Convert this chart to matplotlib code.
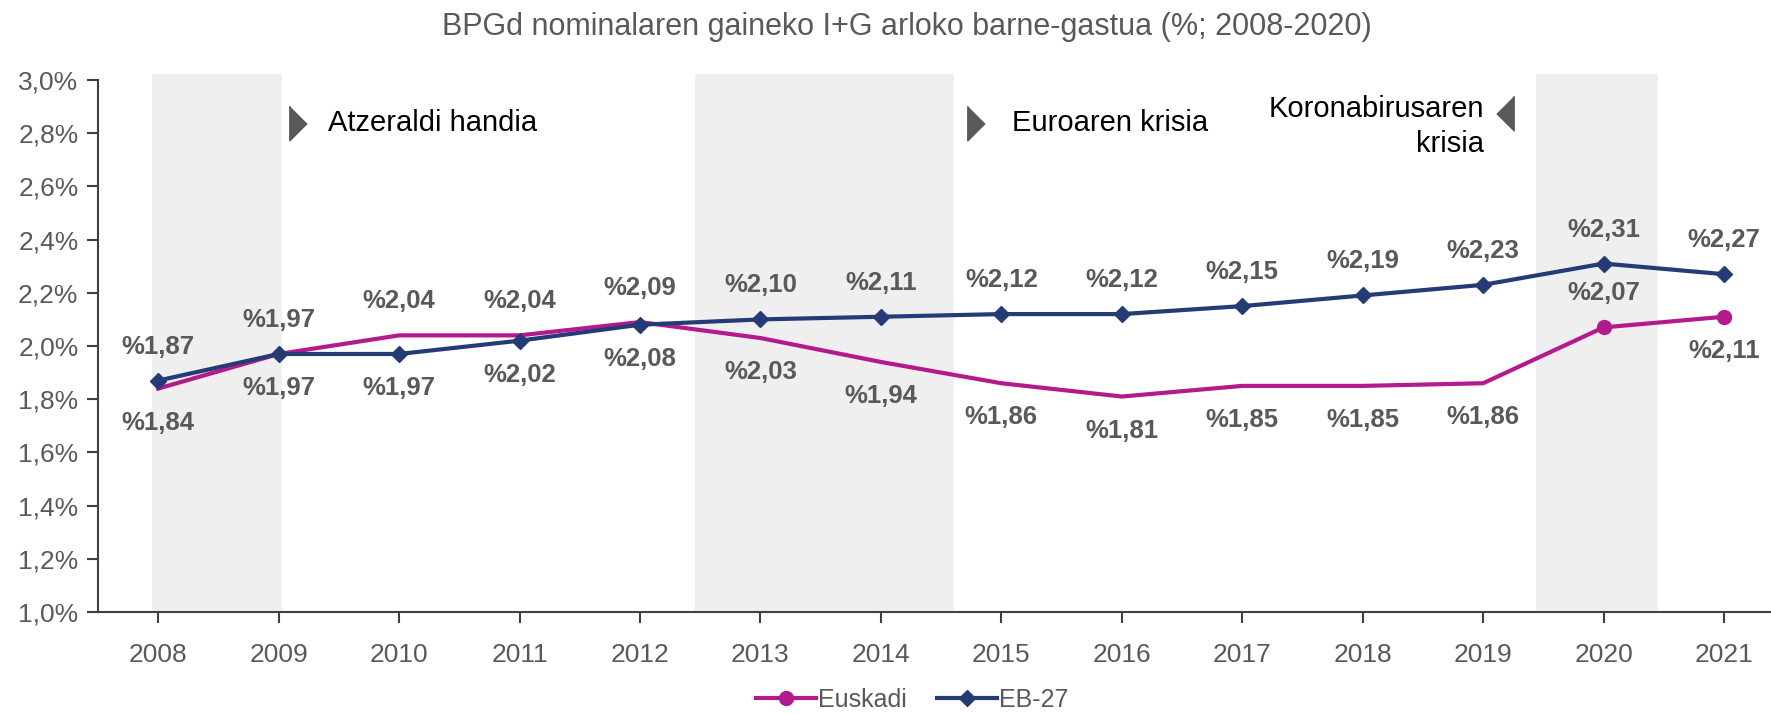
import numpy as np
import matplotlib
matplotlib.use("Agg")
from matplotlib import pyplot as plt
from matplotlib import font_manager as fm

years = ["2008", "2009", "2010", "2011", "2012", "2013", "2014",
         "2015", "2016", "2017", "2018", "2019", "2020", "2021"]
euskadi = [1.84, 1.97, 2.04, 2.04, 2.09, 2.03, 1.94, 1.86, 1.81, 1.85, 1.85, 1.86, 2.07, 2.11]
eb27 = [1.87, 1.97, 1.97, 2.02, 2.08, 2.10, 2.11, 2.12, 2.12, 2.15, 2.19, 2.23, 2.31, 2.27]
# crisis periods (category index ranges)
bands = [(-0.05, 1.03), (4.46, 6.61), (11.44, 12.45)]
title = "BPGd nominalaren gaineko I+G arloko barne-gastua (%; 2008-2020)"

# label side: +1 above the point, -1 below
eu_side = [-1, -1, 1, 1, 1, -1, -1, -1, -1, -1, -1, -1, 1, -1]
eb_side = [1, 1, -1, -1, -1, 1, 1, 1, 1, 1, 1, 1, 1, 1]


def pick(names):
    for n in names:
        try:
            fm.findfont(n, fallback_to_default=False)
            return n
        except ValueError:
            pass
    return "DejaVu Sans"


font = pick(["Liberation Sans Narrow", "Liberation Sans"])
plt.rcParams["font.family"] = [font, "DejaVu Sans"]

GREY = "#595959"
PINK = "#B41A8C"
NAVY = "#243B76"

fig = plt.figure(figsize=(17.71, 7.14), dpi=100)
ax = fig.add_axes([0.0553, 0.1429, 0.9447, 0.745])
x = np.arange(len(years))

for a, b in bands:
    ax.axvspan(a, b, ymin=0, ymax=1.012, color="#EFEFEF", lw=0, zorder=0, clip_on=False)

ax.plot(x, euskadi, color=PINK, lw=3, marker="o", ms=10, markevery=[12, 13],
        label="Euskadi", zorder=3)
ax.plot(x, eb27, color=NAVY, lw=3, marker="D", ms=8, label="EB-27", zorder=4)

def lab(v):
    return "%" + ("%.2f" % v).replace(".", ",")

for i in range(len(years)):
    ax.annotate(lab(euskadi[i]), (x[i], euskadi[i]), textcoords="offset pixels",
                xytext=(0, 34 * eu_side[i]), ha="center", va="center",
                fontsize=18.5, fontweight="bold", color=GREY)
    ax.annotate(lab(eb27[i]), (x[i], eb27[i]), textcoords="offset pixels",
                xytext=(0, 34 * eb_side[i]), ha="center", va="center",
                fontsize=18.5, fontweight="bold", color=GREY)

# crisis captions with small grey triangles
tri_r = [(-0.5, 1), (-0.5, -1), (0.5, 0)]
tri_l = [(0.5, 1), (0.5, -1), (-0.5, 0)]
ax.plot([1.16], [2.84], marker=tri_r, ms=25, color=GREY, ls="none")
ax.text(1.41, 2.84, "Atzeraldi handia", fontsize=21, va="center", ha="left", color="black")
ax.plot([6.79], [2.84], marker=tri_r, ms=25, color=GREY, ls="none")
ax.text(7.09, 2.84, "Euroaren krisia", fontsize=21, va="center", ha="left", color="black")
ax.plot([11.18], [2.876], marker=tri_l, ms=25, color=GREY, ls="none")
ax.text(11.01, 2.825, "Koronabirusaren\nkrisia", fontsize=21, va="center", ha="right",
        color="black", linespacing=1.35)

ax.set_xlim(-0.5, 13.39)
ax.set_ylim(1.0, 3.0)
ax.set_xticks(x)
ax.set_xticklabels(years)
yt = np.arange(1.0, 3.01, 0.2)
ax.set_yticks(yt)
ax.set_yticklabels([("%.1f" % t).replace(".", ",") + "%" for t in yt])
ax.tick_params(axis="both", colors="#404040", labelcolor=GREY, labelsize=19,
               length=8, width=1.5)
ax.tick_params(axis="x", pad=14)
ax.tick_params(axis="y", pad=6)
for s in ["top", "right"]:
    ax.spines[s].set_visible(False)
for s in ["left", "bottom"]:
    ax.spines[s].set_color("#404040")
    ax.spines[s].set_linewidth(1.5)

fig.text(0.512, 0.962, title, ha="center", va="center", fontsize=22, color=GREY)

leg = fig.legend(loc="center", bbox_to_anchor=(0.515, 0.02), ncol=2, frameon=False,
                 fontsize=18, handlelength=2.4, columnspacing=1.2, handletextpad=0.1)
for t in leg.get_texts():
    t.set_color(GREY)

fig.savefig("out.png", dpi=100)
